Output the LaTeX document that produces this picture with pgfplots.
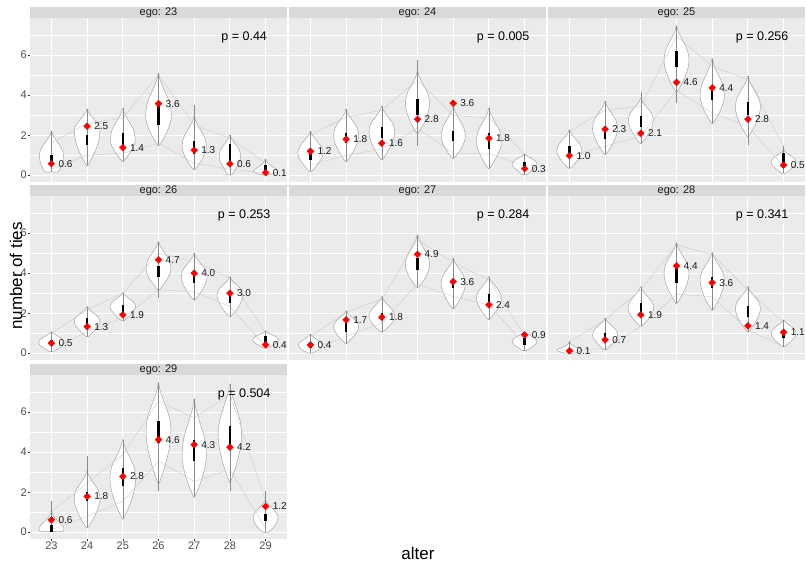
\documentclass[border=0pt]{standalone}
\usepackage{fontspec}
\setmainfont{Liberation Sans}
\usepackage{pgfplots}
\usepackage{pgfplotstable}
\pgfplotsset{compat=1.18}
\definecolor{panelbg}{HTML}{EBEBEB}
\definecolor{stripbg}{HTML}{D9D9D9}
\definecolor{tickgray}{HTML}{4D4D4D}

\pgfplotsset{
 panel/.style={
  scale only axis, width=257pt, height=164pt, anchor=south west,
  xmin=22.4, xmax=29.6, ymin=-0.34, ymax=7.86,
  axis background/.style={fill=panelbg},
  axis line style={draw=none},
  xtick={23,24,25,26,27,28,29}, ytick={0,2,4,6}, minor ytick={1,3,5,7},
  xmajorgrids=true, ymajorgrids=true, yminorgrids=true,
  major grid style={white, line width=0.9pt},
  minor grid style={white, line width=0.45pt},
  xticklabels={}, yticklabels={},
  xtick pos=bottom, ytick pos=left,
  tick align=outside, major tick length=2pt, minor tick length=0pt,
  xtick style={draw=none}, ytick style={draw=none},
  ticklabel style={font=\fontsize{11}{12}\selectfont, text=tickgray, inner sep=1pt},
  /pgf/number format/assume math mode=true,
 },
 ylab/.style={yticklabels={0,2,4,6}, ytick style={draw=black!80, line width=0.5pt}},
 xlab/.style={xticklabels={23,24,25,26,27,28,29}, xtick style={draw=black!80, line width=0.5pt}},
 vio/.style={fill=white, draw=gray!75, line width=0.45pt, smooth, tension=0.55, mark=none},
 conn/.style={draw=gray!42, line width=0.35pt, mark=none},
}

\newcommand{\V}[2]{%
 \addplot[vio] table[row sep=\\, x expr=#1+\thisrow{w}, y=y]{y w\\#2};
 \addplot[vio] table[row sep=\\, x expr=#1-\thisrow{w}, y=y]{y w\\#2};
}
\newcommand{\Layer}[2]{%
 \addplot[conn] table[x=x, y=up]{#1};
 \addplot[conn] table[x=x, y=lo]{#1};
 \addplot[draw=none, mark=none, error bars/.cd, y dir=plus, y explicit, error mark=none,
   error bar style={draw=black!45, line width=0.4pt}]
   table[x=x, y=wlo, y error expr=\thisrow{whi}-\thisrow{wlo}]{#1};
 \addplot[draw=none, mark=none, error bars/.cd, y dir=plus, y explicit, error mark=none,
   error bar style={draw=black, line width=2.3pt}]
   table[x=x, y=blo, y error expr=\thisrow{bhi}-\thisrow{blo}]{#1};
 \addplot[only marks, mark=square*, mark size=2.4pt, mark options={rotate=45, fill=red, draw=red},
   nodes near coords, point meta=explicit symbolic, nodes near coords align=horizontal,
   nodes near coords style={text=black!90, font=\fontsize{10}{11}\selectfont, anchor=west, inner sep=0pt, xshift=7pt}]
   table[x=x, y=red, meta=lab]{#1};
 \node[font=\fontsize{12.5}{14}\selectfont, text=black] at (axis cs:28.4,6.87) {p = #2};
}

\pgfplotstableread{
x wlo whi blo bhi red lab up lo
23 0.17 2.2 0.53 1.0 0.58 0.6 1.6 0.3
24 0.5 3.3 1.5 2.0 2.45 2.5 2.6 1.0
25 0.7 3.35 1.36 2.13 1.38 1.4 2.85 1.1
26 1.5 5.1 2.5 3.6 3.58 3.6 5.0 1.6
27 0.3 3.5 1.08 1.73 1.25 1.3 2.5 0.6
28 0.03 2.0 0.5 1.58 0.57 0.6 1.85 0.3
29 0.03 0.8 0.1 0.53 0.13 0.1 0.6 0.1
}\Ta
\pgfplotstableread{
x wlo whi blo bhi red lab up lo
23 0.2 2.2 0.75 1.2 1.2 1.2 2.0 0.5
24 0.7 3.3 1.6 2.1 1.8 1.8 2.9 1.0
25 0.8 3.45 1.85 2.43 1.6 1.6 3.25 1.3
26 1.45 5.75 3.0 3.8 2.8 2.8 4.75 2.35
27 0.86 3.45 1.7 2.2 3.6 3.6 3.0 1.1
28 0.36 3.35 1.3 2.1 1.85 1.8 2.85 1.1
29 0.03 1.07 0.28 0.66 0.33 0.3 1.05 0.45
}\Tb
\pgfplotstableread{
x wlo whi blo bhi red lab up lo
23 0.36 2.27 0.98 1.45 0.98 1.0 2.2 0.95
24 1.06 3.7 1.8 2.47 2.3 2.3 3.25 1.45
25 1.6 4.17 2.43 2.96 2.1 2.1 3.45 1.95
26 3.6 7.48 5.4 6.2 4.64 4.6 6.95 4.25
27 2.6 5.83 3.76 4.45 4.37 4.4 5.45 3.1
28 1.52 4.95 3.0 3.67 2.8 2.8 4.8 2.45
29 0.1 1.45 0.4 1.1 0.5 0.5 1.45 0.45
}\Tc
\pgfplotstableread{
x wlo whi blo bhi red lab up lo
23 0.08 1.08 0.42 0.67 0.5 0.5 1.0 0.17
24 0.83 2.33 1.33 1.75 1.33 1.3 2.17 1.08
25 1.62 3.03 1.92 2.42 1.92 1.9 3.0 1.75
26 2.75 5.58 3.83 4.37 4.67 4.7 5.0 3.17
27 2.67 5.0 3.5 3.92 4.0 4.0 4.58 3.08
28 1.83 3.83 2.5 2.92 3.0 3.0 3.75 2.33
29 0.25 1.12 0.5 0.87 0.42 0.4 1.0 0.33
}\Td
\pgfplotstableread{
x wlo whi blo bhi red lab up lo
23 0 0.95 0.25 0.53 0.42 0.4 0.83 0.17
24 0.5 2.12 1.08 1.67 1.67 1.7 2.05 0.83
25 1.08 2.83 1.67 2.0 1.8 1.8 2.7 1.5
26 3.3 5.92 4.17 4.75 4.95 4.9 5.67 3.47
27 2.25 4.75 3.25 3.7 3.58 3.6 4.53 2.83
28 1.7 3.83 2.37 2.97 2.42 2.4 3.67 2.42
29 0.13 1.08 0.42 0.75 0.92 0.9 0.87 0.42
}\Te
\pgfplotstableread{
x wlo whi blo bhi red lab up lo
23 0 0.6 0.03 0.25 0.12 0.1 0.58 0.08
24 0.17 1.75 0.58 1.03 0.67 0.7 1.67 0.25
25 1.37 3.33 1.92 2.5 1.92 1.9 3.17 1.33
26 2.5 5.53 3.5 4.25 4.37 4.4 5.42 2.95
27 2.17 5.03 3.25 3.83 3.53 3.6 4.92 2.83
28 1.08 3.33 1.83 2.37 1.37 1.4 3.17 1.17
29 0.33 1.67 0.75 1.17 1.05 1.1 1.53 0.33
}\Tf
\pgfplotstableread{
x wlo whi blo bhi red lab up lo
23 0.03 1.54 0.03 0.37 0.62 0.6 1.04 0.12
24 0.25 3.8 1.54 2.0 1.79 1.8 2.46 0.79
25 0.7 4.63 2.29 3.2 2.79 2.8 3.88 1.54
26 2.04 7.47 4.46 5.55 4.63 4.6 6.55 3.55
27 1.79 6.64 3.55 4.63 4.38 4.3 5.72 2.54
28 2.04 7.39 4.21 5.3 4.25 4.2 6.89 3.13
29 0 2.07 0.54 0.92 1.29 1.2 1.54 0.2
}\Tg

\begin{document}
\begin{tikzpicture}
\useasboundingbox (0,0) rectangle (806pt,565pt);

% ego 23
\begin{axis}[panel, ylab, at={(30pt,383pt)}]
\V{23}{0.17 0\\0.17 0.18\\0.44 0.27\\0.72 0.32\\0.95 0.34\\1.33 0.29\\1.7 0.15\\2.0 0.04\\2.2 0.01\\2.2 0\\}
\V{24}{0.5 0\\0.5 0.02\\1.1 0.2\\1.69 0.32\\2.2 0.36\\2.53 0.31\\2.86 0.16\\3.14 0.04\\3.3 0.01\\3.3 0\\}
\V{25}{0.7 0\\0.7 0.02\\1.09 0.19\\1.47 0.31\\1.8 0.35\\2.27 0.3\\2.73 0.16\\3.12 0.04\\3.35 0.01\\3.35 0\\}
\V{26}{1.5 0\\1.5 0.03\\2.03 0.2\\2.55 0.32\\3.0 0.36\\3.63 0.31\\4.26 0.16\\4.79 0.04\\5.1 0.01\\5.1 0\\}
\V{27}{0.3 0\\0.3 0.03\\0.7 0.19\\1.1 0.3\\1.45 0.34\\1.9 0.29\\2.35 0.15\\2.73 0.04\\2.95 0.01\\2.95 0\\}
\V{28}{0.03 0\\0.03 0.06\\0.35 0.17\\0.67 0.27\\0.95 0.3\\1.27 0.26\\1.58 0.14\\1.84 0.04\\2.0 0.01\\2.0 0\\}
\V{29}{0.03 0\\0.03 0.15\\0.12 0.28\\0.2 0.34\\0.3 0.3\\0.45 0.17\\0.6 0.07\\0.75 0.02\\0.8 0.01\\0.8 0\\}
\Layer{\Ta}{0.44}
\end{axis}

% ego 24
\begin{axis}[panel, at={(289pt,383pt)}]
\V{23}{0.2 0\\0.2 0.04\\0.52 0.19\\0.83 0.31\\1.1 0.35\\1.43 0.3\\1.76 0.16\\2.04 0.04\\2.2 0.01\\2.2 0\\}
\V{24}{0.7 0\\0.7 0.03\\1.16 0.19\\1.61 0.31\\2.0 0.35\\2.39 0.3\\2.78 0.16\\3.1 0.04\\3.3 0.01\\3.3 0\\}
\V{25}{0.8 0\\0.8 0.03\\1.29 0.2\\1.78 0.32\\2.2 0.36\\2.58 0.31\\2.95 0.16\\3.26 0.04\\3.45 0.01\\3.45 0\\}
\V{26}{2.1 0\\2.1 0.02\\2.63 0.19\\3.15 0.3\\3.6 0.34\\4.08 0.29\\4.56 0.15\\4.96 0.04\\5.2 0.01\\5.2 0\\}
\V{27}{0.86 0\\0.86 0.03\\1.24 0.19\\1.62 0.3\\1.95 0.34\\2.4 0.29\\2.85 0.15\\3.23 0.04\\3.45 0.01\\3.45 0\\}
\V{28}{0.36 0\\0.36 0.03\\0.83 0.19\\1.3 0.31\\1.7 0.35\\2.2 0.3\\2.69 0.16\\3.1 0.04\\3.35 0.01\\3.35 0\\}
\V{29}{0.03 0\\0.03 0.06\\0.22 0.19\\0.4 0.31\\0.56 0.35\\0.71 0.3\\0.87 0.16\\0.99 0.04\\1.07 0.01\\1.07 0\\}
\Layer{\Tb}{0.005}
\end{axis}

% ego 25
\begin{axis}[panel, at={(548pt,383pt)}]
\V{23}{0.36 0\\0.36 0.03\\0.65 0.19\\0.95 0.31\\1.2 0.35\\1.52 0.3\\1.84 0.16\\2.11 0.04\\2.27 0.01\\2.27 0\\}
\V{24}{1.06 0\\1.06 0.03\\1.51 0.19\\1.96 0.31\\2.35 0.35\\2.76 0.3\\3.16 0.16\\3.5 0.04\\3.7 0.01\\3.7 0\\}
\V{25}{1.6 0\\1.6 0.03\\2.01 0.19\\2.41 0.31\\2.76 0.35\\3.09 0.3\\3.41 0.16\\3.69 0.04\\3.85 0.01\\3.85 0\\}
\V{26}{4.17 0\\4.17 0.02\\4.72 0.19\\5.28 0.31\\5.75 0.35\\6.27 0.3\\6.79 0.16\\7.22 0.04\\7.48 0.01\\7.48 0\\}
\V{27}{2.6 0\\2.6 0.02\\3.09 0.19\\3.58 0.3\\4.0 0.34\\4.55 0.29\\5.1 0.15\\5.56 0.04\\5.83 0.01\\5.83 0\\}
\V{28}{1.94 0\\1.94 0.02\\2.46 0.19\\2.98 0.31\\3.43 0.35\\3.89 0.3\\4.34 0.16\\4.72 0.04\\4.95 0.01\\4.95 0\\}
\V{29}{0.1 0\\0.1 0.06\\0.29 0.19\\0.49 0.31\\0.65 0.35\\0.84 0.3\\1.02 0.16\\1.18 0.04\\1.27 0.01\\1.27 0\\}
\Layer{\Tc}{0.256}
\end{axis}

% ego 26
\begin{axis}[panel, ylab, at={(30pt,205pt)}]
\V{23}{0.08 0\\0.08 0.05\\0.24 0.2\\0.39 0.32\\0.53 0.36\\0.7 0.31\\0.86 0.16\\1.0 0.04\\1.08 0.01\\1.08 0\\}
\V{24}{0.83 0\\0.83 0.03\\1.09 0.18\\1.35 0.31\\1.58 0.36\\1.81 0.31\\2.03 0.16\\2.22 0.04\\2.33 0.01\\2.33 0\\}
\V{25}{1.62 0\\1.62 0.03\\1.87 0.19\\2.12 0.31\\2.33 0.36\\2.54 0.31\\2.75 0.16\\2.93 0.04\\3.03 0.01\\3.03 0\\}
\V{26}{3.17 0\\3.17 0.02\\3.55 0.19\\3.93 0.31\\4.25 0.35\\4.65 0.3\\5.05 0.16\\5.38 0.04\\5.58 0.01\\5.58 0\\}
\V{27}{2.67 0\\2.67 0.02\\3.08 0.2\\3.48 0.32\\3.83 0.36\\4.18 0.31\\4.53 0.16\\4.82 0.04\\5.0 0.01\\5.0 0\\}
\V{28}{1.83 0\\1.83 0.02\\2.21 0.2\\2.59 0.32\\2.92 0.36\\3.19 0.31\\3.47 0.16\\3.69 0.04\\3.83 0.01\\3.83 0\\}
\V{29}{0.25 0\\0.25 0.05\\0.4 0.2\\0.54 0.32\\0.67 0.36\\0.81 0.31\\0.94 0.16\\1.05 0.04\\1.12 0.01\\1.12 0\\}
\Layer{\Td}{0.253}
\end{axis}

% ego 27
\begin{axis}[panel, at={(289pt,205pt)}]
\V{23}{0 0\\0 0.04\\0.13 0.19\\0.27 0.3\\0.38 0.34\\0.55 0.29\\0.72 0.15\\0.87 0.04\\0.95 0.01\\0.95 0\\}
\V{24}{0.5 0\\0.5 0.03\\0.79 0.19\\1.08 0.31\\1.33 0.35\\1.57 0.3\\1.8 0.16\\2.0 0.04\\2.12 0.01\\2.12 0\\}
\V{25}{1.08 0\\1.08 0.03\\1.34 0.2\\1.61 0.32\\1.83 0.36\\2.13 0.31\\2.43 0.16\\2.68 0.04\\2.83 0.01\\2.83 0\\}
\V{26}{3.3 0\\3.3 0.03\\3.69 0.19\\4.08 0.3\\4.42 0.34\\4.87 0.29\\5.32 0.15\\5.7 0.04\\5.92 0.01\\5.92 0\\}
\V{27}{2.25 0\\2.25 0.03\\2.69 0.19\\3.13 0.3\\3.5 0.34\\3.88 0.29\\4.25 0.15\\4.56 0.04\\4.75 0.01\\4.75 0\\}
\V{28}{1.7 0\\1.7 0.03\\2.07 0.19\\2.44 0.31\\2.75 0.35\\3.07 0.3\\3.4 0.16\\3.67 0.04\\3.83 0.01\\3.83 0\\}
\V{29}{0.13 0\\0.13 0.05\\0.29 0.19\\0.45 0.31\\0.58 0.35\\0.73 0.3\\0.88 0.16\\1.0 0.04\\1.08 0.01\\1.08 0\\}
\Layer{\Te}{0.284}
\end{axis}

% ego 28
\begin{axis}[panel, at={(548pt,205pt)}]
\V{23}{0 0\\0 0.12\\0.06 0.25\\0.12 0.32\\0.17 0.35\\0.25 0.26\\0.35 0.12\\0.45 0.04\\0.55 0.01\\0.55 0\\}
\V{24}{0.17 0\\0.17 0.03\\0.43 0.19\\0.7 0.31\\0.92 0.35\\1.17 0.3\\1.42 0.16\\1.62 0.04\\1.75 0.01\\1.75 0\\}
\V{25}{1.37 0\\1.37 0.03\\1.68 0.2\\1.99 0.32\\2.25 0.36\\2.57 0.31\\2.9 0.16\\3.17 0.04\\3.33 0.01\\3.33 0\\}
\V{26}{2.5 0\\2.5 0.02\\3.03 0.19\\3.55 0.31\\4.0 0.35\\4.46 0.3\\4.92 0.16\\5.3 0.04\\5.53 0.01\\5.53 0\\}
\V{27}{2.17 0\\2.17 0.02\\2.7 0.19\\3.22 0.3\\3.67 0.34\\4.08 0.29\\4.49 0.15\\4.83 0.04\\5.03 0.01\\5.03 0\\}
\V{28}{1.08 0\\1.08 0.02\\1.49 0.19\\1.9 0.31\\2.25 0.35\\2.57 0.3\\2.9 0.16\\3.17 0.04\\3.33 0.01\\3.33 0\\}
\V{29}{0.33 0\\0.33 0.03\\0.56 0.19\\0.8 0.31\\1.0 0.35\\1.2 0.3\\1.4 0.16\\1.57 0.04\\1.67 0.01\\1.67 0\\}
\Layer{\Tf}{0.341}
\end{axis}

% ego 29
\begin{axis}[panel, ylab, xlab, at={(30pt,26pt)}]
\V{23}{0.03 0\\0.03 0.3\\0.12 0.34\\0.2 0.35\\0.35 0.3\\0.55 0.18\\0.75 0.08\\0.95 0.02\\1.04 0.01\\1.04 0\\}
\V{24}{0.25 0\\0.25 0.03\\0.76 0.2\\1.27 0.32\\1.7 0.36\\2.11 0.31\\2.51 0.16\\2.85 0.04\\3.05 0.01\\3.05 0\\}
\V{25}{0.7 0\\0.7 0.02\\1.4 0.2\\2.1 0.32\\2.7 0.36\\3.28 0.31\\3.86 0.16\\4.34 0.04\\4.63 0.01\\4.63 0\\}
\V{26}{2.46 0\\2.46 0.02\\3.37 0.19\\4.27 0.31\\5.05 0.35\\5.78 0.3\\6.5 0.16\\7.11 0.04\\7.47 0.01\\7.47 0\\}
\V{27}{1.79 0\\1.79 0.02\\2.52 0.19\\3.25 0.3\\3.88 0.34\\4.71 0.29\\5.54 0.15\\6.23 0.04\\6.64 0.01\\6.64 0\\}
\V{28}{2.54 0\\2.54 0.02\\3.36 0.18\\4.18 0.29\\4.88 0.33\\5.63 0.28\\6.39 0.15\\7.02 0.04\\7.39 0.01\\7.39 0\\}
\V{29}{0 0\\0 0.08\\0.25 0.22\\0.5 0.32\\0.7 0.35\\0.98 0.3\\1.25 0.16\\1.48 0.04\\1.62 0.01\\1.62 0\\}
\Layer{\Tg}{0.504}
\end{axis}

% facet strips
\foreach \xx/\yy/\lab in {30/547/23, 289/547/24, 548/547/25, 30/369/26, 289/369/27, 548/369/28, 30/190/29} {
  \fill[stripbg] (\xx pt,\yy pt) rectangle ({\xx pt+257pt},{\yy pt+11pt});
  \node[font=\fontsize{11}{12}\selectfont, text=black!90, inner sep=0pt] at ({\xx pt+128.5pt},{\yy pt+5.5pt}) {ego: \lab};
}

% axis titles
\node[rotate=90, font=\fontsize{17}{20}\selectfont] at (16pt,289pt) {number of ties};
\node[font=\fontsize{17}{20}\selectfont] at (418pt,12pt) {alter};
\end{tikzpicture}
\end{document}
